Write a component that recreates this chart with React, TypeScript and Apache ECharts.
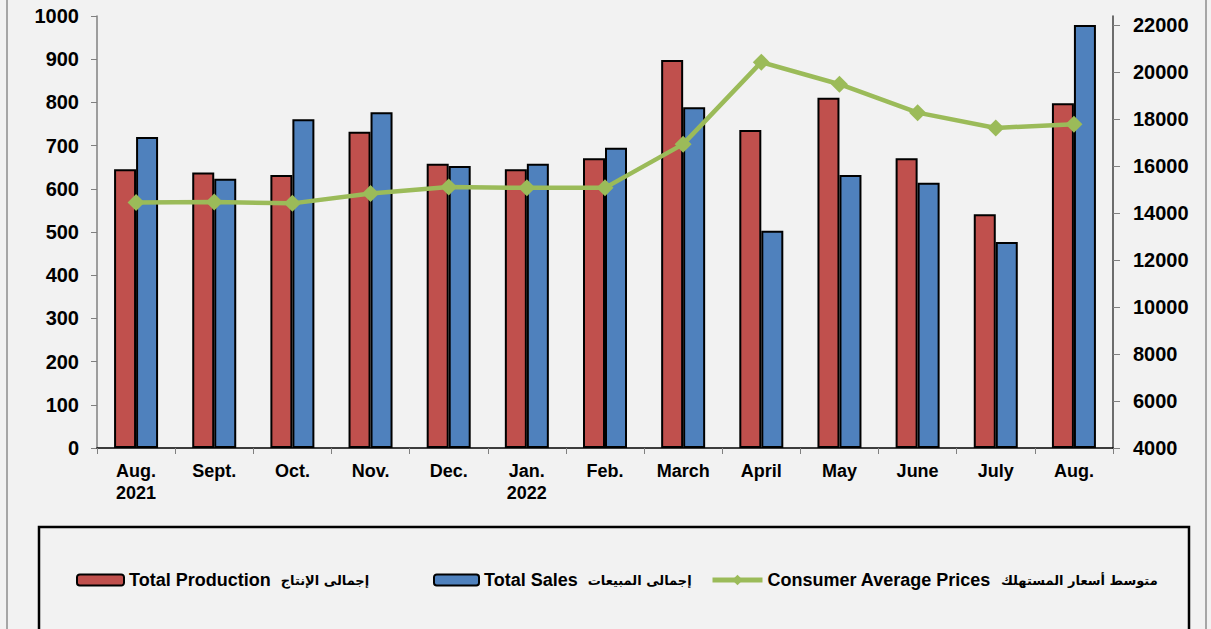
import React, { useEffect, useRef } from "react";
import * as echarts from "echarts";

const categories = ["Aug.\n2021", "Sept.", "Oct.", "Nov.", "Dec.", "Jan.\n2022", "Feb.", "March", "April", "May", "June", "July", "Aug."];
const totalProduction = [645, 638, 632, 732, 658, 645, 671, 898, 736, 811, 671, 541, 798];
const totalSales = [720, 623, 761, 777, 653, 658, 695, 789, 503, 632, 614, 477, 979];
const consumerPrices = [14450, 14470, 14410, 14830, 15110, 15070, 15070, 16930, 20420, 19480, 18270, 17620, 17780];

const NAME_PROD = "Total Production";
const NAME_SALES = "Total Sales";
const NAME_PRICE = "Consumer Average Prices";
const AR_PROD = "إجمالى الإنتاج";
const AR_SALES = "إجمالى المبيعات";
const AR_PRICE = "متوسط أسعار المستهلك";

const FONT = "'Liberation Sans', Arial, 'DejaVu Sans', sans-serif";

export default function App() {
  const ref = useRef<HTMLDivElement>(null);
  useEffect(() => {
    if (!ref.current) return;
    const chart = echarts.init(ref.current, null, { renderer: "svg" });
    const arabic: Record<string, string> = { [NAME_PROD]: AR_PROD, [NAME_SALES]: AR_SALES, [NAME_PRICE]: AR_PRICE };
    const legendText = {
      fontFamily: FONT,
      fontWeight: "bold",
      fontSize: 18,
      color: "#000",
      rich: {
        en: { fontFamily: FONT, fontWeight: "bold", fontSize: 18, color: "#000" },
        ar: { fontFamily: "'DejaVu Sans', sans-serif", fontWeight: "bold", fontSize: 13, color: "#000", padding: [0, 0, 0, 10] },
      },
    };
    const fmt = (name: string) => `{en|${name}}{ar|${arabic[name]}}`;
    const axisLbl = { color: "#000", fontFamily: FONT, fontWeight: "bold", fontSize: 20 };
    chart.setOption({
      animation: false,
      backgroundColor: "#F2F2F2",
      textStyle: { fontFamily: FONT },
      grid: [
        { left: 97, right: 98, top: 16, bottom: 181, containLabel: false },
        { left: 97, right: 98, top: 25, bottom: 181, containLabel: false },
      ],
      graphic: [
        { type: "rect", shape: { x: 7, y: -5, width: 1199, height: 645 }, style: { fill: "none", stroke: "#A6A6A6", lineWidth: 2 }, silent: true },
        { type: "rect", shape: { x: 39, y: 527, width: 1150, height: 130 }, style: { fill: "none", stroke: "#000", lineWidth: 2.5 }, silent: true },
      ],
      legend: [
        { data: [NAME_PROD], left: 76, top: 571, padding: 0, itemWidth: 47, itemHeight: 11, textStyle: legendText, formatter: fmt, selectedMode: false },
        { data: [NAME_SALES], left: 433, top: 571, padding: 0, itemWidth: 45, itemHeight: 11, textStyle: legendText, formatter: fmt, selectedMode: false },
        {
          data: [NAME_PRICE],
          left: 710,
          top: 571,
          padding: 0,
          itemWidth: 50,
          itemHeight: 13,
          textStyle: legendText,
          formatter: fmt,
          selectedMode: false,
          lineStyle: { width: 5, color: "#9BBB59" },
        },
      ],
      xAxis: [
        {
          type: "category",
          gridIndex: 0,
          data: categories,
          boundaryGap: true,
          axisLine: { lineStyle: { color: "#000", width: 1.5 } },
          axisTick: { show: true, length: 6, lineStyle: { color: "#808080" } },
          axisLabel: { ...axisLbl, fontSize: 18, lineHeight: 22, margin: 12, interval: 0 },
          z: 3,
        },
        {
          type: "category",
          gridIndex: 1,
          data: categories,
          boundaryGap: true,
          show: false,
        },
      ],
      yAxis: [
        {
          type: "value",
          gridIndex: 0,
          min: 0,
          max: 1000,
          interval: 100,
          position: "left",
          axisLine: { show: true, lineStyle: { color: "#808080", width: 1.5 } },
          axisTick: { show: true, length: 6, lineStyle: { color: "#808080" } },
          axisLabel: { ...axisLbl, margin: 18, formatter: (v: number) => String(v) },
          splitLine: { show: false },
        },
        {
          type: "value",
          gridIndex: 0,
          min: 0,
          max: 1,
          position: "right",
          axisLine: { show: true, lineStyle: { color: "#404040", width: 1.5 } },
          axisTick: { show: false },
          axisLabel: { show: false },
          splitLine: { show: false },
        },
        {
          type: "value",
          gridIndex: 1,
          min: 4000,
          max: 22000,
          interval: 2000,
          position: "right",
          axisLine: { show: false },
          axisTick: { show: true, length: 7, lineStyle: { color: "#808080" } },
          axisLabel: { ...axisLbl, margin: 20, formatter: (v: number) => String(v) },
          splitLine: { show: false },
        },
      ],
      series: [
        {
          name: NAME_PROD,
          type: "bar",
          xAxisIndex: 0,
          yAxisIndex: 0,
          data: totalProduction,
          barWidth: 22,
          barGap: "0%",
          itemStyle: { color: "#C0504D", borderColor: "#000", borderWidth: 2 },
        },
        {
          name: NAME_SALES,
          type: "bar",
          xAxisIndex: 0,
          yAxisIndex: 0,
          data: totalSales,
          barWidth: 22,
          barGap: "0%",
          itemStyle: { color: "#4F81BD", borderColor: "#000", borderWidth: 2 },
        },
        {
          name: NAME_PRICE,
          type: "line",
          xAxisIndex: 1,
          yAxisIndex: 2,
          data: consumerPrices,
          symbol: "diamond",
          symbolSize: 17,
          lineStyle: { color: "#9BBB59", width: 4.5 },
          itemStyle: { color: "#9BBB59" },
          z: 5,
        },
      ],
    });
    return () => chart.dispose();
  }, []);
  return <div ref={ref} style={{ position: "absolute", left: 0, top: 0, width: 1211, height: 629 }} />;
}
